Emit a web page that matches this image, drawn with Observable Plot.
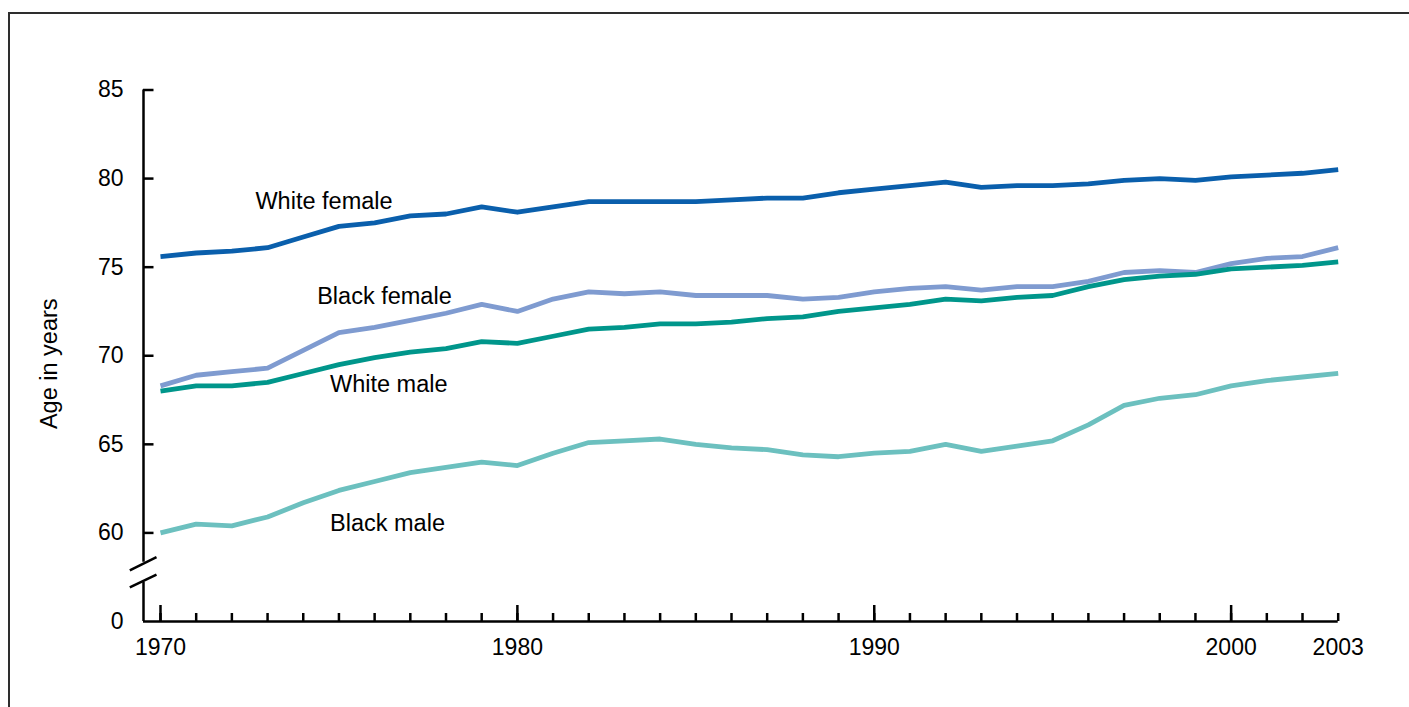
<!DOCTYPE html>
<html>
<head>
<meta charset="utf-8">
<script src="https://cdn.jsdelivr.net/npm/d3@7"></script>
<script src="https://cdn.jsdelivr.net/npm/@observablehq/plot@0.6"></script>
<style>
html, body { margin: 0; padding: 0; background: #fff; width: 1409px; height: 707px; overflow: hidden; }
#wrap { position: relative; width: 1409px; height: 707px; }
#frame { position: absolute; left: 8px; top: 12px; width: 1420px; height: 720px; border-top: 2px solid #2e2e2e; border-left: 2px solid #2e2e2e; box-sizing: border-box; }
#chart { position: absolute; left: 0; top: 0; }
</style>
</head>
<body>
<div id="wrap"><div id="frame"></div><div id="chart"></div></div>
<script>
// ---- Data ----
const years = [1970,1971,1972,1973,1974,1975,1976,1977,1978,1979,
               1980,1981,1982,1983,1984,1985,1986,1987,1988,1989,
               1990,1991,1992,1993,1994,1995,1996,1997,1998,1999,
               2000,2001,2002,2003];

const whiteFemale = [75.6,75.8,75.9,76.1,76.7,77.3,77.5,77.9,78.0,78.4,
                     78.1,78.4,78.7,78.7,78.7,78.7,78.8,78.9,78.9,79.2,
                     79.4,79.6,79.8,79.5,79.6,79.6,79.7,79.9,80.0,79.9,
                     80.1,80.2,80.3,80.5];
const blackFemale = [68.3,68.9,69.1,69.3,70.3,71.3,71.6,72.0,72.4,72.9,
                     72.5,73.2,73.6,73.5,73.6,73.4,73.4,73.4,73.2,73.3,
                     73.6,73.8,73.9,73.7,73.9,73.9,74.2,74.7,74.8,74.7,
                     75.2,75.5,75.6,76.1];
const whiteMale   = [68.0,68.3,68.3,68.5,69.0,69.5,69.9,70.2,70.4,70.8,
                     70.7,71.1,71.5,71.6,71.8,71.8,71.9,72.1,72.2,72.5,
                     72.7,72.9,73.2,73.1,73.3,73.4,73.9,74.3,74.5,74.6,
                     74.9,75.0,75.1,75.3];
const blackMale   = [60.0,60.5,60.4,60.9,61.7,62.4,62.9,63.4,63.7,64.0,
                     63.8,64.5,65.1,65.2,65.3,65.0,64.8,64.7,64.4,64.3,
                     64.5,64.6,65.0,64.6,64.9,65.2,66.1,67.2,67.6,67.8,
                     68.3,68.6,68.8,69.0];

const seriesNames  = ["White female", "Black female", "White male", "Black male"];
const seriesColors = ["#0a5fac", "#7f9bd0", "#00968b", "#6cc0bf"];

const yTickValues = [55, 60, 65, 70, 75, 80, 85];   // 55 is the broken-axis "0"
const yTickLabels = ["0", "60", "65", "70", "75", "80", "85"];
const majorYears  = [1970, 1980, 1990, 2000];
const labeledYears = [1970, 1980, 1990, 2000, 2003];

// label anchors (data coordinates)
const labelYears  = [1972.66, 1974.39, 1974.75, 1974.75];
const labelValues = [78.72, 73.34, 68.38, 60.53];

// ---- Build table ----
const seriesValues = [whiteFemale, blackFemale, whiteMale, blackMale];
const rows = [];
seriesNames.forEach((name, s) => {
  years.forEach((yr, i) => rows.push({series: name, year: yr, value: seriesValues[s][i]}));
});
const labels = seriesNames.map((name, i) => ({name, year: labelYears[i], value: labelValues[i]}));

// axis geometry (in data units)
const xMin = 1969.5237;
const yAxisUpperEnd = 58.35, yAxisLowerEnd = 57.22;
const breakMarks = [
  {x1: 1969.140, y1: 57.88, x2: 1969.888, y2: 58.63},
  {x1: 1969.140, y1: 56.92, x2: 1969.888, y2: 57.65}
];

const font = "'Liberation Sans', Arial, Helvetica, sans-serif";
const axisW = 2.5;

const chart = Plot.plot({
  width: 1409,
  height: 707,
  marginLeft: 143,
  marginRight: 71.3,
  marginTop: 89.5,
  marginBottom: 86,
  x: {domain: [xMin, 2003]},
  y: {domain: [55, 85]},
  color: {domain: seriesNames, range: seriesColors},
  style: {fontFamily: font, color: "#000", background: "transparent", overflow: "visible"},
  marks: [
    // y axis labels
    Plot.axisY({ticks: yTickValues, tickSize: 0, tickPadding: 20,
                tickFormat: d => yTickLabels[yTickValues.indexOf(d)], fontSize: 23, label: null}),
    // y axis inward ticks
    Plot.axisY({ticks: yTickValues.slice(1), tickSize: -10.5, tickFormat: () => "",
                strokeWidth: axisW, label: null}),
    // x axis minor ticks
    Plot.axisX({ticks: years, tickSize: -8, tickFormat: () => "", strokeWidth: axisW, label: null}),
    // x axis major ticks
    Plot.axisX({ticks: majorYears, tickSize: -16, tickFormat: () => "", strokeWidth: axisW, label: null}),
    // x axis labels
    Plot.axisX({ticks: labeledYears, tickSize: 0, tickPadding: 17, tickFormat: d => String(d),
                fontSize: 23, label: null}),
    // axis lines
    Plot.ruleY([55], {strokeWidth: axisW}),
    Plot.ruleX([xMin], {y1: 85, y2: yAxisUpperEnd, strokeWidth: axisW}),
    Plot.ruleX([xMin], {y1: 55, y2: yAxisLowerEnd, strokeWidth: axisW}),
    Plot.link(breakMarks, {x1: "x1", y1: "y1", x2: "x2", y2: "y2", strokeWidth: axisW, clip: false}),
    // series lines
    Plot.line(rows, {x: "year", y: "value", z: "series", stroke: "series",
                     strokeWidth: 4.8, strokeLinejoin: "round", strokeLinecap: "butt"}),
    // series labels
    Plot.text(labels, {x: "year", y: "value", text: "name", textAnchor: "start",
                       fontSize: 23.5, fill: "#000"}),
    // y axis title
    Plot.text(["Age in years"], {frameAnchor: "left", textAnchor: "middle", dx: -93.8, dy: 8, rotate: -90,
                                 fontSize: 23.5, fill: "#000"})
  ]
});
document.getElementById("chart").appendChild(chart);
</script>
</body>
</html>
